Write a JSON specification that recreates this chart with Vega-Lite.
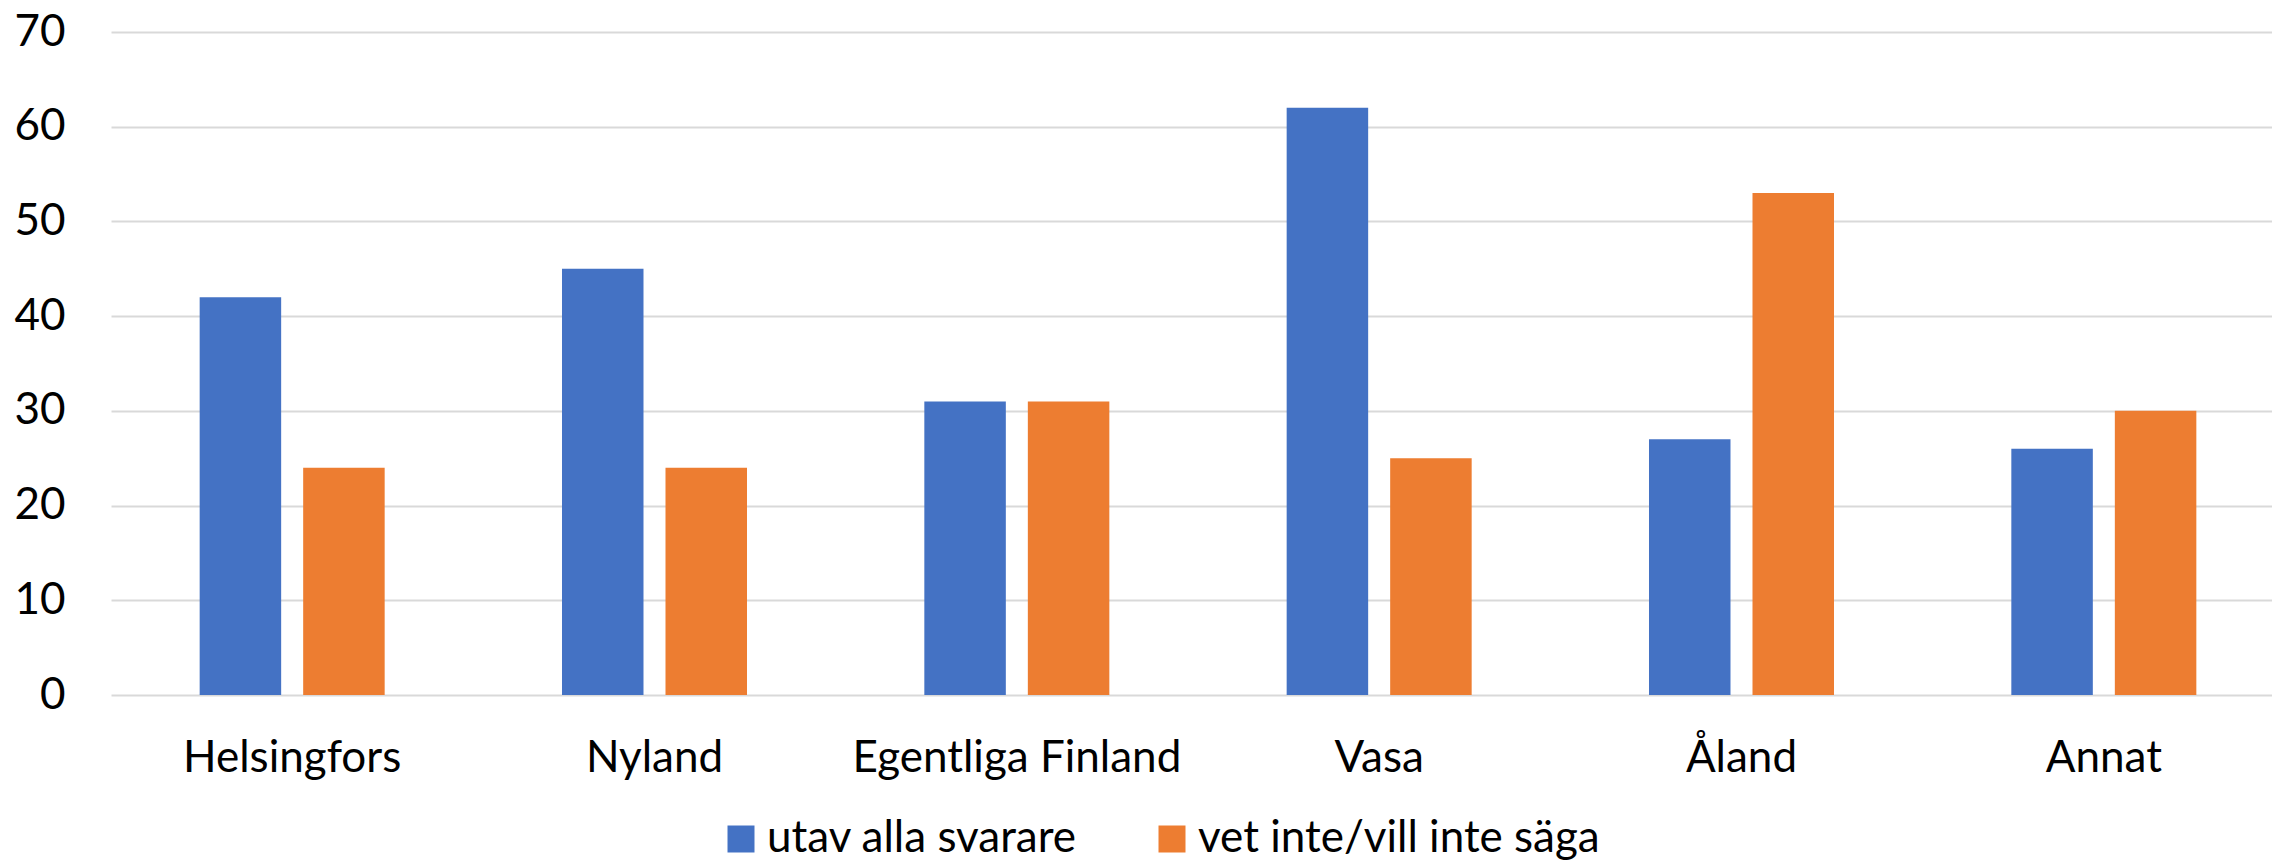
{
  "$schema": "https://vega.github.io/schema/vega-lite/v6.json",
  "width": 2161,
  "height": 663,
  "autosize": {"type": "none"},
  "padding": {"left": 111, "top": 32, "right": 0, "bottom": 166},
  "background": "white",
  "data": {
    "values": [
      {"region": "Helsingfors", "series": "utav alla svarare", "value": 42},
      {"region": "Helsingfors", "series": "vet inte/vill inte säga", "value": 24},
      {"region": "Nyland", "series": "utav alla svarare", "value": 45},
      {"region": "Nyland", "series": "vet inte/vill inte säga", "value": 24},
      {"region": "Egentliga Finland", "series": "utav alla svarare", "value": 31},
      {"region": "Egentliga Finland", "series": "vet inte/vill inte säga", "value": 31},
      {"region": "Vasa", "series": "utav alla svarare", "value": 62},
      {"region": "Vasa", "series": "vet inte/vill inte säga", "value": 25},
      {"region": "Åland", "series": "utav alla svarare", "value": 27},
      {"region": "Åland", "series": "vet inte/vill inte säga", "value": 53},
      {"region": "Annat", "series": "utav alla svarare", "value": 26},
      {"region": "Annat", "series": "vet inte/vill inte säga", "value": 30}
    ]
  },
  "mark": {"type": "bar"},
  "encoding": {
    "x": {
      "field": "region",
      "type": "nominal",
      "sort": null,
      "scale": {"range": [0, 2174], "paddingInner": 0, "paddingOuter": 0},
      "axis": {
        "title": null,
        "domain": false,
        "ticks": false,
        "labelAngle": 0,
        "labelFont": "Lato",
        "labelFontSize": 44,
        "labelColor": "#000000",
        "labelBaseline": "alphabetic",
        "labelPadding": 76,
        "labelLimit": 1000
      }
    },
    "xOffset": {
      "field": "series",
      "type": "nominal",
      "sort": null,
      "scale": {"paddingInner": 0.2126, "paddingOuter": 0.8566}
    },
    "y": {
      "field": "value",
      "type": "quantitative",
      "scale": {"domain": [0, 70], "nice": false},
      "axis": {
        "title": null,
        "domain": false,
        "ticks": false,
        "values": [0, 10, 20, 30, 40, 50, 60, 70],
        "grid": true,
        "gridColor": "#d9d9d9",
        "gridWidth": 2,
        "labelFont": "Lato",
        "labelFontSize": 44,
        "labelColor": "#000000",
        "labelPadding": 46
      }
    },
    "color": {
      "field": "series",
      "type": "nominal",
      "sort": null,
      "scale": {
        "domain": ["utav alla svarare", "vet inte/vill inte säga"],
        "range": ["#4472C4", "#ED7D31"]
      },
      "legend": {
        "title": null,
        "orient": "none",
        "legendX": 608,
        "legendY": 785,
        "direction": "horizontal",
        "symbolType": "square",
        "symbolSize": 729,
        "symbolStrokeWidth": 0,
        "symbolOpacity": 1,
        "labelFont": "Lato",
        "labelFontSize": 44,
        "labelColor": "#000000",
        "labelOffset": 4,
        "columnPadding": 72,
        "padding": 0,
        "labelLimit": 1000
      }
    }
  },
  "config": {
    "view": {"stroke": null}
  }
}
